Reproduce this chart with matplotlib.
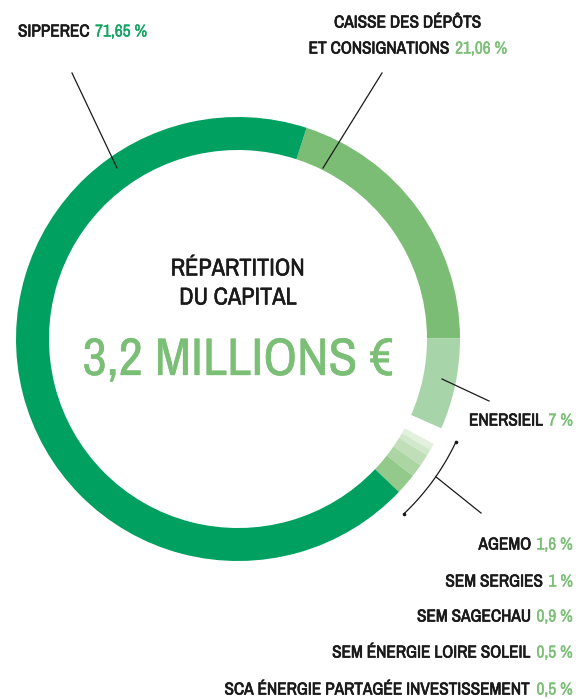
import matplotlib
matplotlib.use('Agg')
import matplotlib.pyplot as plt
import matplotlib.patheffects as pe
from matplotlib import font_manager
import numpy as np

# Shareholders, in the order they are drawn clockwise from the top
names = ['CAISSE DES DÉPÔTS\nET CONSIGNATIONS', 'ENERSIEIL', None,
         'SCA ÉNERGIE PARTAGÉE INVESTISSEMENT', 'SEM ÉNERGIE LOIRE SOLEIL',
         'SEM SAGECHAU', 'SEM SERGIES', 'AGEMO', 'SIPPEREC']
shares = [21.06, 7, None, 0.5, 0.5, 0.9, 1, 1.6, 71.65]
share_labels = ['21,06 %', '7 %', None, '0,5 %', '0,5 %', '0,9 %', '1 %', '1,6 %', '71,65 %']
colors = ['#7bbd74', '#a8d4aa', 'white', '#e2f0de', '#d2e8cc', '#c0dfb8',
          '#abd5a2', '#93c98b', '#00a060']

# small holders listed under the bracket, top to bottom
small_list = ['AGEMO', 'SEM SERGIES', 'SEM SAGECHAU', 'SEM ÉNERGIE LOIRE SOLEIL',
              'SCA ÉNERGIE PARTAGÉE INVESTISSEMENT']

GAP_SHARE = 1.3          # white gap between Enersieil and the small holders
W, H = 576, 699
CX, CY = 238, 339        # ring centre (image coords, y down)
R_OUT, RING_W = 222, 33
BLACK = '#1a1a1a'
LIGHT = '#7bbf76'
DARK = '#13a462'


def Y(y):
    return H - y


def pick_font():
    # prefer any narrow / condensed face that happens to be installed
    fonts = font_manager.fontManager.ttflist
    for f in fonts:
        if 'Narrow' in f.name or 'Condensed' in f.name:
            return f.name, 'normal'
    for f in fonts:
        if f.stretch in ('condensed', 'semi-condensed', 'extra-condensed'):
            return f.name, f.stretch
    have = {f.name for f in fonts}
    for fam in ['Roboto', 'Inter', 'Lato']:
        if fam in have:
            return fam, 'normal'
    return 'DejaVu Sans', 'normal'


FONT, STRETCH = pick_font()
# the narrow face has no bold, so thicken the black names with a thin stroke
HEAVY = [pe.withStroke(linewidth=0.5, foreground=BLACK)]
PCT_FX = [pe.withStroke(linewidth=0.25, foreground=LIGHT)]

fig = plt.figure(figsize=(W / 100, H / 100), dpi=100)
ax = fig.add_axes([0, 0, 1, 1])
ax.set_xlim(0, W)
ax.set_ylim(0, H)
ax.axis('off')
renderer = fig.canvas.get_renderer()


def text_w(s, size):
    t = ax.text(0, 0, s, fontsize=size, family=FONT, fontstretch=STRETCH)
    w = t.get_window_extent(renderer).width
    t.remove()
    return w


def fit(s, target, max_size):
    return min(max_size, 20 * target / text_w(s, 20))


# ring
vals = [GAP_SHARE if v is None else v for v in shares]
wedges, _ = ax.pie(vals, colors=colors, startangle=90 - 18, counterclock=False,
                   radius=R_OUT, center=(CX, Y(CY)),
                   wedgeprops=dict(width=RING_W, linewidth=0))
ax.set_xlim(0, W)
ax.set_ylim(0, H)
ax.set_aspect('equal')

# leader lines
line_kw = dict(color=BLACK, lw=0.9)
ax.plot([72, 117], [Y(73), Y(168)], **line_kw)
ax.plot([382, 323], [Y(73), Y(168)], **line_kw)
ax.plot([442, 489], [Y(379), Y(401)], **line_kw)

# bracket around the small holders
small_w = wedges[3:8]
a0 = min(w.theta1 for w in small_w) - 3
a1 = max(w.theta2 for w in small_w) + 3
ang = np.radians(np.linspace(a0, a1, 60))
rb = 241
ax.plot(CX + rb * np.cos(ang), Y(CY) + rb * np.sin(ang), **line_kw)
ax.plot(CX + rb * np.cos(ang[[0, -1]]), Y(CY) + rb * np.sin(ang[[0, -1]]), 'o',
        color=BLACK, ms=1.6)
am = np.radians((a0 + a1) / 2 + 1)
ax.plot([CX + rb * np.cos(am), 481], [Y(CY) + rb * np.sin(am), Y(513)], **line_kw)

# label text
lab_size = fit('SCA ÉNERGIE PARTAGÉE INVESTISSEMENT 0,5 %', 346, 15.5)


def pair(x, y, name, pct, pct_color, ha='right'):
    wp = text_w(pct, lab_size)
    wn = text_w(name, lab_size)
    gap = 5
    if ha == 'right':
        xr = x
    elif ha == 'center':
        xr = x + (wn + gap + wp) / 2
    else:
        xr = x + wn + gap + wp
    ax.text(xr, Y(y), pct, fontsize=lab_size, family=FONT, fontstretch=STRETCH,
            color=pct_color, ha='right', va='center',
            path_effects=[pe.withStroke(linewidth=0.25, foreground=pct_color)])
    ax.text(xr - wp - gap, Y(y), name, fontsize=lab_size, family=FONT,
            fontstretch=STRETCH, color=BLACK, ha='right', va='center',
            path_effects=HEAVY)


pair(18, 32, names[8], share_labels[8], DARK, ha='left')
cname = names[0].split('\n')
ax.text(408, Y(23), cname[0], fontsize=lab_size, family=FONT, fontstretch=STRETCH,
        color=BLACK, ha='center', va='center', path_effects=HEAVY)
pair(408, 49, cname[1], share_labels[0], LIGHT, ha='center')
pair(573, 421, names[1], share_labels[1], LIGHT)

row_y = [545, 582, 617, 653, 690]
for nm, yy in zip(small_list, row_y):
    i = names.index(nm)
    pair(573, yy, nm, share_labels[i], LIGHT)

# centre title
t_size = fit('RÉPARTITION', 148, 17.5)
for txt, yy in [('RÉPARTITION', 269), ('DU CAPITAL', 298)]:
    ax.text(CX, Y(yy), txt, fontsize=t_size, family=FONT, fontstretch=STRETCH,
            color=BLACK, ha='center', va='center',
            path_effects=[pe.withStroke(linewidth=0.35, foreground=BLACK)])
big_size = fit('3,2 MILLIONS €', 312, 44)
ax.text(CX, Y(360), '3,2 MILLIONS €', fontsize=big_size, family=FONT,
        fontstretch=STRETCH, color=LIGHT, ha='center', va='center', path_effects=PCT_FX)

fig.savefig('out.png', dpi=100)
